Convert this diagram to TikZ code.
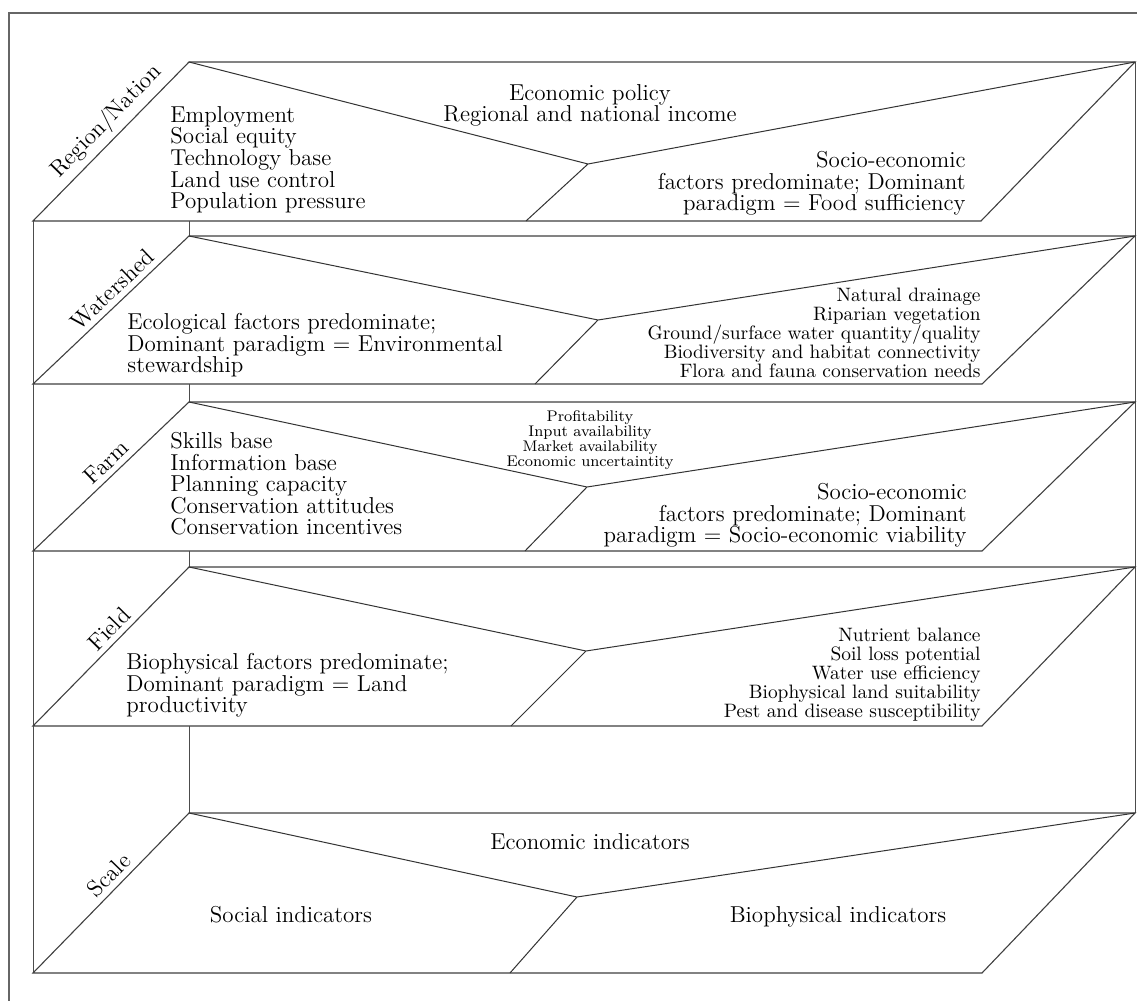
\documentclass[tikz,border=0pt]{standalone}
\usepackage{tikz}

\tikzset{
  slab/.style={draw=black!75, fill=white, line width=0.55pt},
  wedge/.style={draw=black!80, line width=0.5pt},
  backline/.style={draw=black!70, line width=0.5pt},
  bigtxt/.style={font=\fontsize{11.5}{10.8}\selectfont, inner sep=0pt},
  listtxt/.style={font=\fontsize{9.7}{9.5}\selectfont, inner sep=0pt},
  smalltxt/.style={font=\fontsize{7.7}{7.5}\selectfont, inner sep=0pt},
  levellbl/.style={font=\fontsize{11.6}{12}\selectfont, sloped, above, inner sep=2.6pt}
}

\begin{document}
\begin{tikzpicture}[x=0.5pt, y=-0.5pt]
  \useasboundingbox (0,0) rectangle (1137,1001);
  % outer frame
  \draw[black!60, line width=0.6pt] (9,1001) -- (9,13) -- (1137,13);
  % box edges behind the slabs
  \draw[backline] (189,62) -- (189,813);
  \draw[backline] (1135,62) -- (1135,813);
  \draw[backline] (33,221) -- (33,973);

  % Region/Nation
  \filldraw[slab] (33,221) -- (189,62) -- (1135,62) -- (981,221) -- cycle;
  \draw[wedge] (189,62) -- (588,164) -- (1135,62) (588,164) -- (526,221);
  \path (33,221) -- node[levellbl, pos=.55] (regionlbl) {Region/Nation} (189,62);
  \node[bigtxt, anchor=north west, align=left] (regionsoc) at (170,106)
    {Employment\\Social equity\\Technology base\\Land use control\\Population pressure};
  \node[bigtxt, anchor=north, align=center] (regioneco) at (590,84)
    {Economic policy\\Regional and national income};
  \node[bigtxt, anchor=north east, align=right] (regionbio) at (966,151)
    {Socio-economic\\factors predominate; Dominant\\paradigm = Food sufficiency};

  % Watershed
  \filldraw[slab] (33,384) -- (189,236) -- (1135,236) -- (982,384) -- cycle;
  \draw[wedge] (189,236) -- (598,320) -- (1135,236) (598,320) -- (535,384);
  \path (33,384) -- node[levellbl, pos=.57] (shedlbl) {Watershed} (189,236);
  \node[bigtxt, anchor=north west, align=left] (shedsoc) at (127,313)
    {Ecological factors predominate;\\Dominant paradigm = Environmental\\stewardship};
  \node[listtxt, anchor=north east, align=right] (shedbio) at (981,288)
    {Natural drainage\\Riparian vegetation\\Ground/surface water quantity/quality\\Biodiversity and habitat connectivity\\Flora and fauna conservation needs};

  % Farm
  \filldraw[slab] (33,551) -- (189,402) -- (1135,402) -- (982,551) -- cycle;
  \draw[wedge] (189,402) -- (587,487) -- (1135,402) (587,487) -- (525,551);
  \path (33,551) -- node[levellbl, pos=.53] (farmlbl) {Farm} (189,402);
  \node[bigtxt, anchor=north west, align=left] (farmsoc) at (170,432)
    {Skills base\\Information base\\Planning capacity\\Conservation attitudes\\Conservation incentives};
  \node[smalltxt, anchor=north, align=center] (farmeco) at (590,410)
    {Profitability\\Input availability\\Market availability\\Economic uncertaintity};
  \node[bigtxt, anchor=north east, align=right] (farmbio) at (967,483)
    {Socio-economic\\factors predominate; Dominant\\paradigm = Socio-economic viability};

  % Field
  \filldraw[slab] (33,726) -- (189,567) -- (1135,567) -- (982,726) -- cycle;
  \draw[wedge] (189,567) -- (586,651) -- (1135,567) (586,651) -- (511,726);
  \path (33,726) -- node[levellbl, pos=.55] (fieldlbl) {Field} (189,567);
  \node[bigtxt, anchor=north west, align=left] (fieldsoc) at (126,653)
    {Biophysical factors predominate;\\Dominant paradigm = Land\\productivity};
  \node[listtxt, anchor=north east, align=right] (fieldbio) at (981,628)
    {Nutrient balance\\Soil loss potential\\Water use efficiency\\Biophysical land suitability\\Pest and disease susceptibility};

  % Scale
  \filldraw[slab] (33,973) -- (189,813) -- (1135,813) -- (982,973) -- cycle;
  \draw[wedge] (189,813) -- (577,897) -- (1135,813) (577,897) -- (510,973);
  \path (33,973) -- node[levellbl, pos=.55] (scalelbl) {Scale} (189,813);
  \node[bigtxt, anchor=north] (scaleeco) at (590,833) {Economic indicators};
  \node[bigtxt, anchor=north] (scalesoc) at (291,906) {Social indicators};
  \node[bigtxt, anchor=north] (scalebio) at (838,906) {Biophysical indicators};
\end{tikzpicture}
\end{document}
